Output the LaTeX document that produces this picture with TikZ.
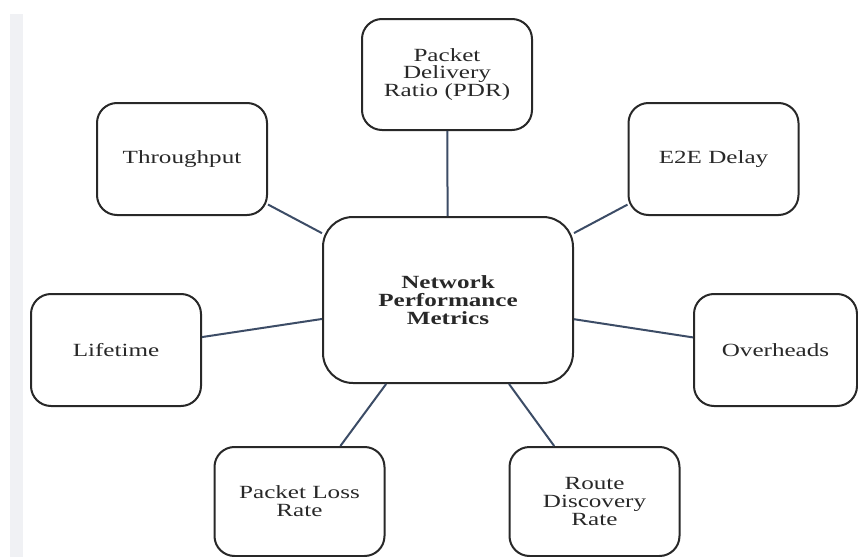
\documentclass[tikz,border=0pt]{standalone}
\usepackage{fontspec}
\setmainfont{Liberation Serif}[FakeStretch=1.35]
\definecolor{linkc}{RGB}{60,76,102}
\definecolor{stripc}{RGB}{240,241,244}
\definecolor{inkc}{RGB}{40,40,40}
\begin{document}
\begin{tikzpicture}[x=0.5pt,y=-0.5pt,
  box/.style={draw=inkc, line width=1pt, rounded corners=10pt,
    minimum width=85pt, minimum height=56pt, inner sep=0pt, align=center,
    font=\fontsize{9.3}{8.9}\selectfont, text=inkc},
  link/.style={draw=linkc, line width=1pt}]
\useasboundingbox (0,0) rectangle (858,557);
\fill[stripc] (10,14) rectangle (23,557);
\node[box, minimum height=55.5pt] (pdr) at (447,74.5) {Packet\\Delivery\\Ratio (PDR)};
\node[box] (thr) at (182,159) {Throughput};
\node[box] (e2e) at (713.5,159) {E2E Delay};
\node[box] (life) at (116,350) {Lifetime};
\node[box, minimum width=81.5pt] (over) at (775.5,350) {Overheads};
\node[box, minimum height=54.5pt] (plr) at (299.5,501.5) {Packet Loss\\Rate};
\node[box, minimum height=54.5pt] (rdr) at (594.5,501.5) {Route\\Discovery\\Rate};
\node[box, minimum width=125pt, minimum height=83pt, rounded corners=15pt,
  font=\fontsize{9.3}{8.9}\selectfont\bfseries] (main) at (448,300) {Network\\Performance\\Metrics};
\draw[link] (main) -- (pdr);
\draw[link] (main) -- (thr);
\draw[link] (main) -- (e2e);
\draw[link] (main) -- (life);
\draw[link] (main) -- (over);
\draw[link] (main) -- (plr);
\draw[link] (main) -- (rdr);
\end{tikzpicture}
\end{document}
